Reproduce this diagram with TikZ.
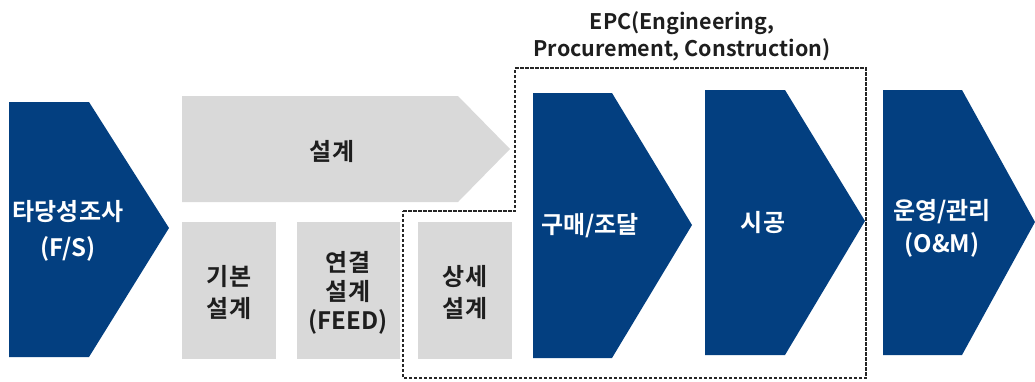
\documentclass[tikz,border=0pt]{standalone}
\usepackage{fontspec}
\newfontfamily\kr{Noto Sans CJK KR}[BoldFont={* Bold}]
\definecolor{navy}{RGB}{3,63,128}
\definecolor{lgray}{RGB}{217,217,217}
\definecolor{ink}{RGB}{30,30,30}
\tikzset{
  bluechev/.style={fill=navy,draw=none},
  graybox/.style={fill=lgray,draw=none},
  wlabel/.style={text=white,font=\kr\bfseries\fontsize{24}{34}\selectfont,align=center,inner sep=0pt},
  glabel/.style={text=ink,font=\kr\bfseries\fontsize{24}{32}\selectfont,align=center,inner sep=0pt},
  epcline/.style={draw=black!85,line width=2pt,dash pattern=on 3.5pt off 1.5pt},
}
\begin{document}
\begin{tikzpicture}[x=1pt,y=-1pt]
\useasboundingbox (0,0) rectangle (1035,381);
% blue chevrons
\path[bluechev] (9,102) -- (89,102) -- (169,228) -- (89,357) -- (9,357) -- cycle;
\path[bluechev] (533,93) -- (612,93) -- (692,225) -- (612,358) -- (533,358) -- cycle;
\path[bluechev] (705,90) -- (785,90) -- (865,221) -- (785,355) -- (705,355) -- cycle;
\path[bluechev] (883,90) -- (962,90) -- (1035,222) -- (962,355) -- (883,355) -- cycle;
% gray design arrow and boxes
\path[graybox] (182,96) -- (458,96) -- (510,149) -- (458,202) -- (182,202) -- cycle;
\path[graybox] (182,222) rectangle (276,359);
\path[graybox] (297,222) rectangle (400,359);
\path[graybox] (418,222) rectangle (512,359);
% EPC dashed frame
\draw[epcline] (403,211) -- (515,211) -- (515,68) -- (866,68) -- (866,378) -- (403,378) -- cycle;
% labels
\node[wlabel,font=\kr\bfseries\fontsize{24}{36}\selectfont] (fs) at (68,231) {타당성조사\\(F/S)};
\node[glabel] (design) at (332,151) {설계};
\node[glabel] (basic) at (229,292) {기본\\설계};
\node[glabel,font=\kr\bfseries\fontsize{24}{29}\selectfont] (feed) at (348,293) {연결\\설계\\(FEED)};
\node[glabel] (detail) at (465,292) {상세\\설계};
\node[wlabel] (proc) at (590,226) {구매/조달};
\node[wlabel] (cons) at (763,223) {시공};
\node[wlabel,font=\kr\bfseries\fontsize{24}{33}\selectfont] (om) at (942,228) {운영/관리\\(O\&M)};
\node[text=ink,font=\kr\bfseries\fontsize{21.5}{27}\selectfont,align=center,inner sep=0pt] (epc) at (682,36) {EPC(Engineering,\\Procurement, Construction)};
\end{tikzpicture}
\end{document}
